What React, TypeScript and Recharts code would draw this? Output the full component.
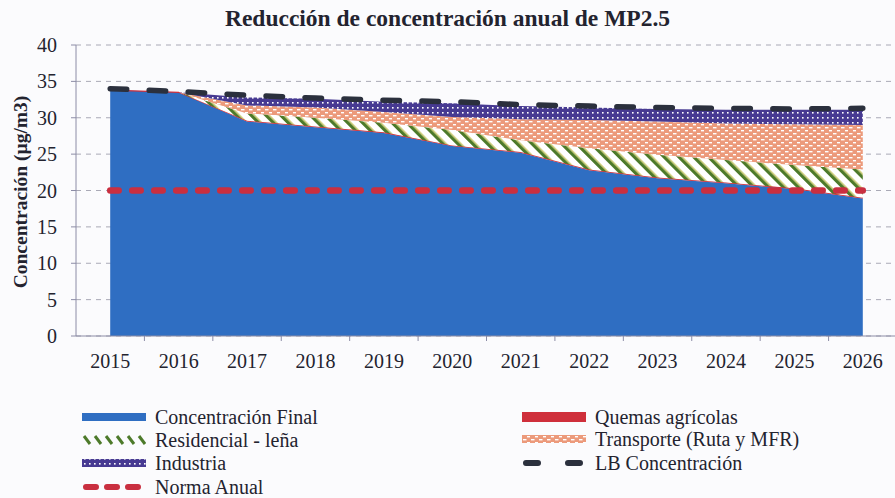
import React from 'react';
import { ComposedChart, Area, Line, XAxis, YAxis, CartesianGrid } from 'recharts';

const years = ['2015', '2016', '2017', '2018', '2019', '2020', '2021', '2022', '2023', '2024', '2025', '2026'];
const concentracionFinal = [33.8, 33.5, 29.5, 28.7, 27.9, 26.1, 25.2, 22.8, 21.7, 21.0, 20.2, 18.9];
const quemasAgricolas = [0, 0, 0.1, 0.1, 0.1, 0.1, 0.1, 0.1, 0.1, 0.1, 0.1, 0.1];
const residencialLena = [0, 0, 1.0, 1.2, 1.3, 2.1, 1.6, 2.9, 3.1, 3.1, 3.2, 3.9];
const transporte = [0, 0, 1.1, 1.4, 1.5, 1.8, 2.9, 3.9, 4.6, 5.0, 5.6, 6.1];
const industria = [0, 0, 1.1, 1.2, 1.4, 1.9, 1.8, 1.7, 1.7, 1.9, 2.0, 2.1];
const lbConcentracion = [34.0, 33.6, 33.1, 32.7, 32.4, 32.2, 31.8, 31.6, 31.4, 31.3, 31.2, 31.3];
const normaAnual = [20, 20, 20, 20, 20, 20, 20, 20, 20, 20, 20, 20];
const yTicks = [0, 5, 10, 15, 20, 25, 30, 35, 40];

const data = years.map((year, i) => ({
  year,
  final: concentracionFinal[i],
  quemas: quemasAgricolas[i],
  residencial: residencialLena[i],
  transporte: transporte[i],
  industria: industria[i],
  lb: lbConcentracion[i],
  norma: normaAnual[i],
}));

const FONT = '"Liberation Serif", "Times New Roman", serif';
const TEXT = '#23232f';
const AXIS = '#8c8ca6';
const BLUE = '#2f6ec2';
const RED = '#cf2f3b';
const NORMA = '#c92f40';
const LB = '#2b303d';

const PLOT_LEFT = 76;
const PLOT_RIGHT = 897;
const HALF = (PLOT_RIGHT - PLOT_LEFT) / years.length / 2;

function YearTick(props: any) {
  const { x, y, payload, index } = props;
  return (
    <g>
      {index < years.length - 1 && (
        <line x1={x + HALF} x2={x + HALF} y1={y - 18} y2={y - 13} stroke={AXIS} />
      )}
      <text x={x} y={y} dy="0.71em" textAnchor="middle" fill={TEXT} fontSize={20} fontFamily={FONT}>
        {payload.value}
      </text>
    </g>
  );
}

function Patterns() {
  return (
    <svg width={0} height={0} style={{ position: 'absolute' }}>
      <defs>
        <pattern id="resHatch" width="10.5" height="10.5" patternUnits="userSpaceOnUse" patternTransform="rotate(-45)">
          <rect width="10.5" height="10.5" fill="#ffffff" />
          <rect x="0" y="0" width="3.4" height="10.5" fill="#4d7a2a" />
          <rect x="3.4" y="0" width="1" height="10.5" fill="#c6c14a" />
        </pattern>
        <pattern id="transHatch" width="8" height="6" patternUnits="userSpaceOnUse">
          <rect width="8" height="6" fill="#ec9a7b" />
          <rect x="1" y="1" width="3.5" height="1.4" fill="#ffffff" />
          <rect x="5" y="4" width="3.5" height="1.4" fill="#ffffff" />
        </pattern>
        <pattern id="indHatch" width="5" height="5" patternUnits="userSpaceOnUse">
          <rect width="5" height="5" fill="#473a92" />
          <rect x="2" y="2" width="1.6" height="1.6" fill="#ffffff" />
        </pattern>
      </defs>
    </svg>
  );
}

function Swatch({ kind }: { kind: string }) {
  return (
    <svg width={64} height={14} style={{ display: 'block' }}>
      {kind === 'final' && <rect x={0} y={3} width={64} height={8} fill={BLUE} />}
      {kind === 'quemas' && <rect x={0} y={2} width={64} height={10} fill={RED} />}
      {kind === 'transporte' && <rect x={0} y={3} width={64} height={8} fill="url(#transHatch)" />}
      {kind === 'industria' && <rect x={0} y={3} width={64} height={8} fill="url(#indHatch)" />}
      {kind === 'residencial' &&
        [0, 1, 2, 3, 4, 5].map((k) => (
          <line key={k} x1={2 + k * 11} y1={3} x2={8 + k * 11} y2={11} stroke="#4d7a2a" strokeWidth={3} />
        ))}
      {kind === 'norma' && (
        <line x1={4} y1={7} x2={62} y2={7} stroke={NORMA} strokeWidth={6} strokeDasharray="10 11" strokeLinecap="round" />
      )}
      {kind === 'lb' && (
        <line x1={4} y1={7} x2={62} y2={7} stroke={LB} strokeWidth={6} strokeDasharray="12 30" strokeLinecap="round" />
      )}
    </svg>
  );
}

const legendItems = [
  { kind: 'final', label: 'Concentración Final', x: 82, y: 417 },
  { kind: 'residencial', label: 'Residencial - leña', x: 82, y: 440 },
  { kind: 'industria', label: 'Industria', x: 82, y: 463 },
  { kind: 'norma', label: 'Norma Anual', x: 82, y: 487 },
  { kind: 'quemas', label: 'Quemas agrícolas', x: 522, y: 417 },
  { kind: 'transporte', label: 'Transporte (Ruta y MFR)', x: 522, y: 439 },
  { kind: 'lb', label: 'LB Concentración', x: 522, y: 463 },
];

export default function App() {
  return (
    <div
      style={{
        position: 'absolute',
        left: 0,
        top: 0,
        width: 895,
        height: 498,
        overflow: 'hidden',
        background: '#fbfbfd',
        fontFamily: FONT,
        color: TEXT,
      }}
    >
      <Patterns />
      <div
        style={{
          position: 'absolute',
          top: 7,
          left: 0,
          width: 895,
          textAlign: 'center',
          fontWeight: 'bold',
          fontSize: 23.5,
          lineHeight: '23px',
        }}
      >
        Reducción de concentración anual de MP2.5
      </div>
      <div
        style={{
          position: 'absolute',
          left: 20,
          top: 192,
          transform: 'translate(-50%, -50%) rotate(-90deg)',
          whiteSpace: 'nowrap',
          fontWeight: 'bold',
          fontSize: 19.5,
          lineHeight: '19px',
        }}
      >
        Concentración (µg/m3)
      </div>
      <div style={{ position: 'absolute', left: 0, top: 0 }}>
        <ComposedChart width={900} height={380} data={data} margin={{ top: 45, right: 3, left: 0, bottom: 4 }}>
          <CartesianGrid horizontal vertical={false} stroke="#a9a9b6" strokeDasharray="5 5" />
          <XAxis
            dataKey="year"
            interval={0}
            padding={{ left: HALF, right: HALF }}
            axisLine={{ stroke: AXIS }}
            tickLine={false}
            tickSize={5}
            tickMargin={13}
            height={40}
            tick={(p: any) => <YearTick {...p} />}
          />
          <YAxis
            width={76}
            domain={[0, 40]}
            ticks={yTicks}
            interval={0}
            axisLine={{ stroke: AXIS }}
            tickLine={{ stroke: AXIS }}
            tickSize={5}
            tickMargin={14}
            tick={{ fill: TEXT, fontSize: 20, fontFamily: FONT }}
          />
          <Area type="linear" dataKey="final" stackId="1" fill={BLUE} fillOpacity={1} stroke="none" isAnimationActive={false} />
          <Area type="linear" dataKey="quemas" stackId="1" fill={RED} fillOpacity={1} stroke={RED} strokeWidth={1.2} isAnimationActive={false} />
          <Area type="linear" dataKey="residencial" stackId="1" fill="url(#resHatch)" fillOpacity={1} stroke="none" isAnimationActive={false} />
          <Area type="linear" dataKey="transporte" stackId="1" fill="url(#transHatch)" fillOpacity={1} stroke="none" isAnimationActive={false} />
          <Area type="linear" dataKey="industria" stackId="1" fill="url(#indHatch)" fillOpacity={1} stroke="none" isAnimationActive={false} />
          <Line
            type="linear"
            dataKey="norma"
            stroke={NORMA}
            strokeWidth={6.5}
            strokeDasharray="8.5 13.5"
            strokeLinecap="round"
            dot={false}
            isAnimationActive={false}
          />
          <Line
            type="linear"
            dataKey="lb"
            stroke={LB}
            strokeWidth={5.5}
            strokeDasharray="16.5 22.5"
            strokeLinecap="round"
            dot={false}
            isAnimationActive={false}
          />
        </ComposedChart>
      </div>
      {legendItems.map((item) => (
        <div
          key={item.label}
          style={{
            position: 'absolute',
            left: item.x,
            top: item.y - 11,
            height: 22,
            display: 'flex',
            alignItems: 'center',
            whiteSpace: 'nowrap',
            fontSize: 20,
          }}
        >
          <Swatch kind={item.kind} />
          <span style={{ marginLeft: 9 }}>{item.label}</span>
        </div>
      ))}
    </div>
  );
}
